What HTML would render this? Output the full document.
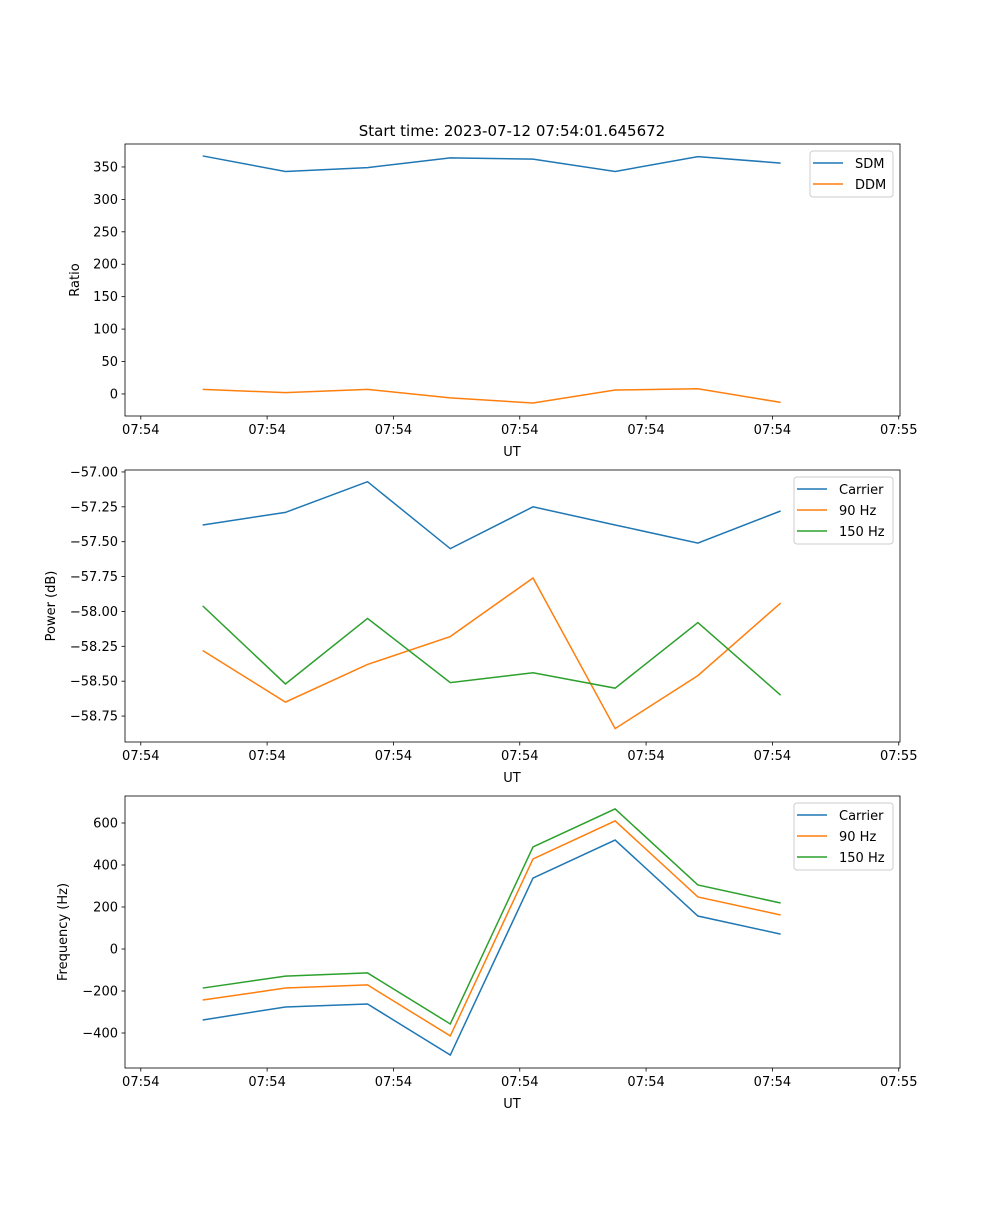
<!DOCTYPE html>
<html><head><meta charset="utf-8"><style>
body{margin:0;background:#fff}
svg text{font-family:"DejaVu Sans","Liberation Sans",sans-serif;font-size:13px;fill:#000}
</style></head><body>
<svg id="fig" width="1000" height="1200" xmlns="http://www.w3.org/2000/svg">
<rect width="1000" height="1200" fill="#fff"/>
<text x="512" y="136" text-anchor="middle" style="font-size:15px">Start time: 2023-07-12 07:54:01.645672</text>
</svg>
<script>
const times=[0.98,2.29,3.59,4.90,6.21,7.51,8.82,10.13];
const xTicks=[0,2,4,6,8,10,12];
const xTickLabels=["07:54","07:54","07:54","07:54","07:54","07:54","07:55"];
const sdm=[367,343,349,364,362,343,366,356];
const ddm=[7,2,7,-6,-14,6,8,-13];
const powCarrier=[-57.38,-57.29,-57.07,-57.55,-57.25,-57.38,-57.51,-57.28];
const pow90=[-58.28,-58.65,-58.38,-58.18,-57.76,-58.84,-58.46,-57.94];
const pow150=[-57.96,-58.52,-58.05,-58.51,-58.44,-58.55,-58.08,-58.60];
const freqCarrier=[-338,-276,-262,-505,338,519,157,71];
const freq90=[-243,-186,-171,-414,429,610,248,162];
const freq150=[-186,-129,-114,-357,486,667,305,219];
const ticks1=[0,50,100,150,200,250,300,350];
const ticks2=[-58.75,-58.5,-58.25,-58,-57.75,-57.5,-57.25,-57];
const ticks3=[-400,-200,0,200,400,600];
const C=["#1f77b4","#ff7f0e","#2ca02c"];
const NS="http://www.w3.org/2000/svg";
const svg=document.getElementById('fig');
function mk(t,a,p){const e=document.createElementNS(NS,t);for(const k in a)e.setAttribute(k,a[k]);(p||svg).appendChild(e);return e;}
const L=125,R=900,xmin=-0.25,xmax=12.02;
const X=v=>L+(v-xmin)/(xmax-xmin)*(R-L);
function panel(top,bot,ymin,ymax,yt,fmt,ylabel,series,names,legW,name){
  const g=mk('g',{});
  
  
  const Y=v=>bot-(v-ymin)/(ymax-ymin)*(bot-top);
  series.forEach((s,i)=>{
    const pl=mk('polyline',{points:s.map((v,j)=>X(times[j])+','+Y(v)).join(' '),fill:'none',stroke:C[i],'stroke-width':1.5},g);
    
    
  });
  mk('rect',{x:L,y:top,width:R-L,height:bot-top,fill:'none',stroke:'#000','stroke-width':0.8},g);
  xTicks.forEach((t,i)=>{
    mk('line',{x1:X(t),x2:X(t),y1:bot,y2:bot+3.5,stroke:'#000','stroke-width':0.8},g);
    const tx=mk('text',{x:X(t),y:bot+18,'text-anchor':'middle'},g);tx.textContent=xTickLabels[i];
    
    
  });
  const xl=mk('text',{x:512,y:bot+40,'text-anchor':'middle'},g);xl.textContent='UT';
  
  
  yt.forEach(t=>{
    mk('line',{x1:L-3.5,x2:L,y1:Y(t),y2:Y(t),stroke:'#000','stroke-width':0.8},g);
    const tx=mk('text',{x:L-7,y:Y(t)+4.5,'text-anchor':'end'},g);tx.textContent=fmt(t);
    
    
  });
  const yl=mk('text',{transform:`translate(${ylabel[1]},${(top+bot)/2}) rotate(-90)`,'text-anchor':'middle'},g);yl.textContent=ylabel[0];
  
  
  const lx=893-legW,ly=top+7,lh=4+names.length*21;
  const lg=mk('g',{},g);
  
  
  mk('rect',{x:lx,y:ly,width:legW,height:lh,rx:3,fill:'#fff',stroke:'#ccc','stroke-width':1},lg);
  names.forEach((n,i)=>{
    const yy=ly+12+i*21;
    mk('line',{x1:lx+3,x2:lx+33,y1:yy,y2:yy,stroke:C[i],'stroke-width':1.5},lg);
    const t=mk('text',{x:lx+45,y:yy+5},lg);t.textContent=n;
    
    
  });
}
panel(144,416,-34,385.4,ticks1,v=>String(v),['Ratio',79],[sdm,ddm],['SDM','DDM'],83,'ratio-panel');
panel(470,742,-58.936,-56.986,ticks2,v=>'\u2212'+Math.abs(v).toFixed(2),['Power (dB)',55],[powCarrier,pow90,pow150],['Carrier','90 Hz','150 Hz'],99,'power-panel');
panel(796,1068,-566.7,728.6,ticks3,v=>(v<0?'\u2212':'')+Math.abs(v),['Frequency (Hz)',67],[freqCarrier,freq90,freq150],['Carrier','90 Hz','150 Hz'],99,'frequency-panel');
</script>
</body></html>
